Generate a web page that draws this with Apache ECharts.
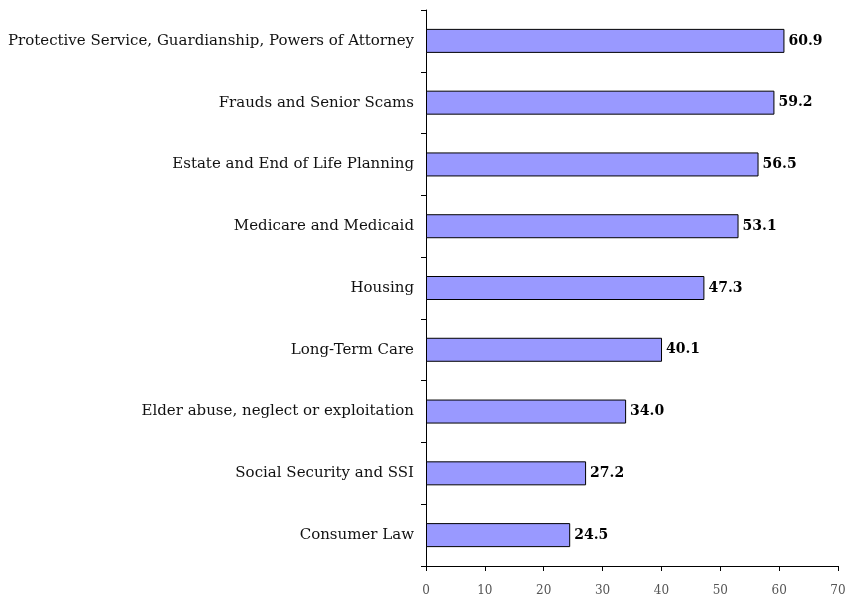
<!DOCTYPE html>
<html>
<head>
<meta charset="utf-8">
<script src="https://cdn.jsdelivr.net/npm/echarts@6/dist/echarts.min.js"></script>
<style>
  html, body { margin: 0; padding: 0; background: #fff; }
  #chart { width: 851px; height: 597px; }
</style>
</head>
<body>
<div id="chart"></div>
<script>
// categories from bottom to top
const categories = [
  'Consumer Law',
  'Social Security and SSI',
  'Elder abuse, neglect or exploitation',
  'Long-Term Care',
  'Housing',
  'Medicare and Medicaid',
  'Estate and End of Life Planning',
  'Frauds and Senior Scams',
  'Protective Service, Guardianship, Powers of Attorney'
]
const values = [24.5, 27.2, 34.0, 40.1, 47.3, 53.1, 56.5, 59.2, 60.9]

const FONT = '"DejaVu Serif", "Liberation Serif", serif'

let chart = echarts.init(document.getElementById('chart'))

chart.setOption({
  animation: false,
  grid: { left: 426, right: 13, top: 10, bottom: 31 },
  xAxis: {
    type: 'value',
    min: 0,
    max: 70,
    interval: 10,
    splitLine: { show: false },
    axisLine: { show: true, lineStyle: { color: '#000', width: 1 } },
    axisTick: { show: true, length: 5, lineStyle: { color: '#000' } },
    axisLabel: { color: '#555', fontFamily: FONT, fontSize: 12, margin: 19 }
  },
  yAxis: {
    type: 'category',
    data: categories,
    axisLine: { show: true, lineStyle: { color: '#000', width: 1 } },
    axisTick: { show: true, length: 5, inside: false, lineStyle: { color: '#000' } },
    axisLabel: { color: '#111', fontFamily: FONT, fontSize: 15, margin: 12 }
  },
  series: [{
    type: 'bar',
    data: values,
    barWidth: 24,
    itemStyle: { color: '#9999FF', borderColor: '#000', borderWidth: 1 },
    label: {
      show: true,
      position: 'right',
      distance: 4,
      formatter: (p) => p.value.toFixed(1),
      color: '#000',
      fontFamily: FONT,
      fontSize: 14,
      fontWeight: 'bold'
    }
  }]
})
</script>
</body>
</html>
